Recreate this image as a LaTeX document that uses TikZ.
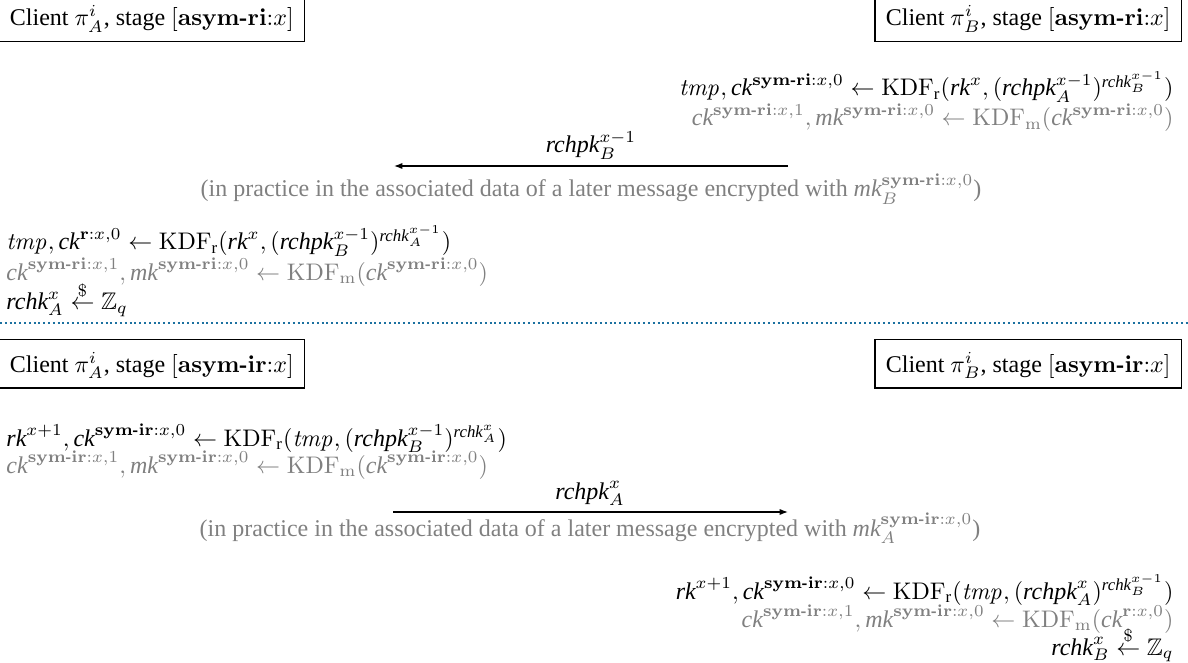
\documentclass[tikz,border=0pt]{standalone}
\usepackage{amsmath,amssymb}
\usepackage[no-math]{fontspec}
\setmainfont{Liberation Serif}[ItalicFont={Liberation Serif Italic},BoldFont={Liberation Serif Bold},BoldItalicFont={Liberation Serif Bold Italic}]
\usetikzlibrary{arrows.meta}
\definecolor{dotcol}{RGB}{28,113,160}
\definecolor{notegray}{RGB}{128,128,128}
\newcommand{\bh}{\text{\fontfamily{lmr}\bfseries -}}
\newcommand{\vk}[1]{\text{\normalfont\itshape #1}}
\newcommand{\sri}{\mathbf{sym\bh ri}}
\newcommand{\sir}{\mathbf{sym\bh ir}}
\newcommand{\rnd}{\stackrel{\$}{\leftarrow}}
\tikzset{
  lbl/.style={inner sep=0pt, anchor=base west},
  rbl/.style={inner sep=0pt, anchor=base east},
  ctr/.style={inner sep=0pt, anchor=base},
  gry/.style={text=notegray},
  client/.style={draw, line width=0.5pt, text height=10.2pt, text depth=3.2pt, inner xsep=4.5pt, inner ysep=3.5pt},
  msg/.style={line width=0.5pt, -{Latex[length=3.5pt,width=2.6pt]}},
  sepline/.style={draw=dotcol, line width=0.8pt, dash pattern=on 0.8pt off 1.2pt}
}
\begin{document}
\begin{tikzpicture}[x=0.41667pt,y=-0.41667pt]
\useasboundingbox (0,0) rectangle (1188,663);
% ---- top section
\node[client, anchor=base west] (ca1) at (-1.5,25.6) {Client $\pi^i_A$, stage $[\mathbf{asym\bh ri}{:}x]$};
\node[client, anchor=base east] (cb1) at (1182,25.6) {Client $\pi^i_B$, stage $[\mathbf{asym\bh ri}{:}x]$};
\node[rbl] (r1) at (1174,96) {$\mathit{tmp}, \vk{ck}^{\sri:x,0} \leftarrow \mathrm{KDF}_{\text{r}}(\vk{rk}^x, (\vk{rchpk}_A^{x-1})^{\vk{rchk}_B^{x-1}})$};
\node[rbl, gry] (r2) at (1174,126) {$\vk{ck}^{\sri:x,1}, \vk{mk}^{\sri:x,0} \leftarrow \mathrm{KDF}_{\mathrm{m}}(\vk{ck}^{\sri:x,0})$};
\coordinate (a1s) at (788,166);
\coordinate (a1e) at (394,166);
\draw[msg] (a1s) -- (a1e);
\node[ctr] (m1) at (591,153) {$\vk{rchpk}_B^{x-1}$};
\node[ctr, gry] (n1) at (591,197) {(in practice in the associated data of a later message encrypted with $\vk{mk}_B^{\sri:x,0}$)};
\node[lbl] (l1) at (6,250) {$\mathit{tmp}, \vk{ck}^{\mathbf{r}:x,0} \leftarrow \mathrm{KDF}_{\text{r}}(\vk{rk}^x, (\vk{rchpk}_B^{x-1})^{\vk{rchk}_A^{x-1}})$};
\node[lbl, gry] (l2) at (6,280) {$\vk{ck}^{\sri:x,1}, \vk{mk}^{\sri:x,0} \leftarrow \mathrm{KDF}_{\mathrm{m}}(\vk{ck}^{\sri:x,0})$};
\node[lbl] (l3) at (6,310) {$\vk{rchk}_A^x \rnd \mathbb{Z}_q$};
% ---- separator
\coordinate (s1) at (0,323);
\coordinate (s2) at (1188,323);
\draw[sepline] (s1) -- (s2);
% ---- bottom section
\node[client, anchor=base west] (ca2) at (-1.5,372) {Client $\pi^i_A$, stage $[\mathbf{asym\bh ir}{:}x]$};
\node[client, anchor=base east] (cb2) at (1182,372) {Client $\pi^i_B$, stage $[\mathbf{asym\bh ir}{:}x]$};
\node[lbl] (l4) at (6,446) {$\vk{rk}^{x+1}, \vk{ck}^{\sir:x,0} \leftarrow \mathrm{KDF}_{\text{r}}(\mathit{tmp}, (\vk{rchpk}_B^{x-1})^{\vk{rchk}_A^{x}})$};
\node[lbl, gry] (l5) at (6,473) {$\vk{ck}^{\sir:x,1}, \vk{mk}^{\sir:x,0} \leftarrow \mathrm{KDF}_{\mathrm{m}}(\vk{ck}^{\sir:x,0})$};
\coordinate (a2s) at (393,512);
\coordinate (a2e) at (788,512);
\draw[msg] (a2s) -- (a2e);
\node[ctr] (m2) at (590,499) {$\vk{rchpk}_A^{x}$};
\node[ctr, gry] (n2) at (590,536) {(in practice in the associated data of a later message encrypted with $\vk{mk}_A^{\sir:x,0}$)};
\node[rbl] (r4) at (1174,599) {$\vk{rk}^{x+1}, \vk{ck}^{\sir:x,0} \leftarrow \mathrm{KDF}_{\text{r}}(\mathit{tmp}, (\vk{rchpk}_A^{x})^{\vk{rchk}_B^{x-1}})$};
\node[rbl, gry] (r5) at (1174,627) {$\vk{ck}^{\sir:x,1}, \vk{mk}^{\sir:x,0} \leftarrow \mathrm{KDF}_{\mathrm{m}}(\vk{ck}^{\mathbf{r}:x,0})$};
\node[rbl] (r6) at (1174,655) {$\vk{rchk}_B^x \rnd \mathbb{Z}_q$};
\end{tikzpicture}
\end{document}
